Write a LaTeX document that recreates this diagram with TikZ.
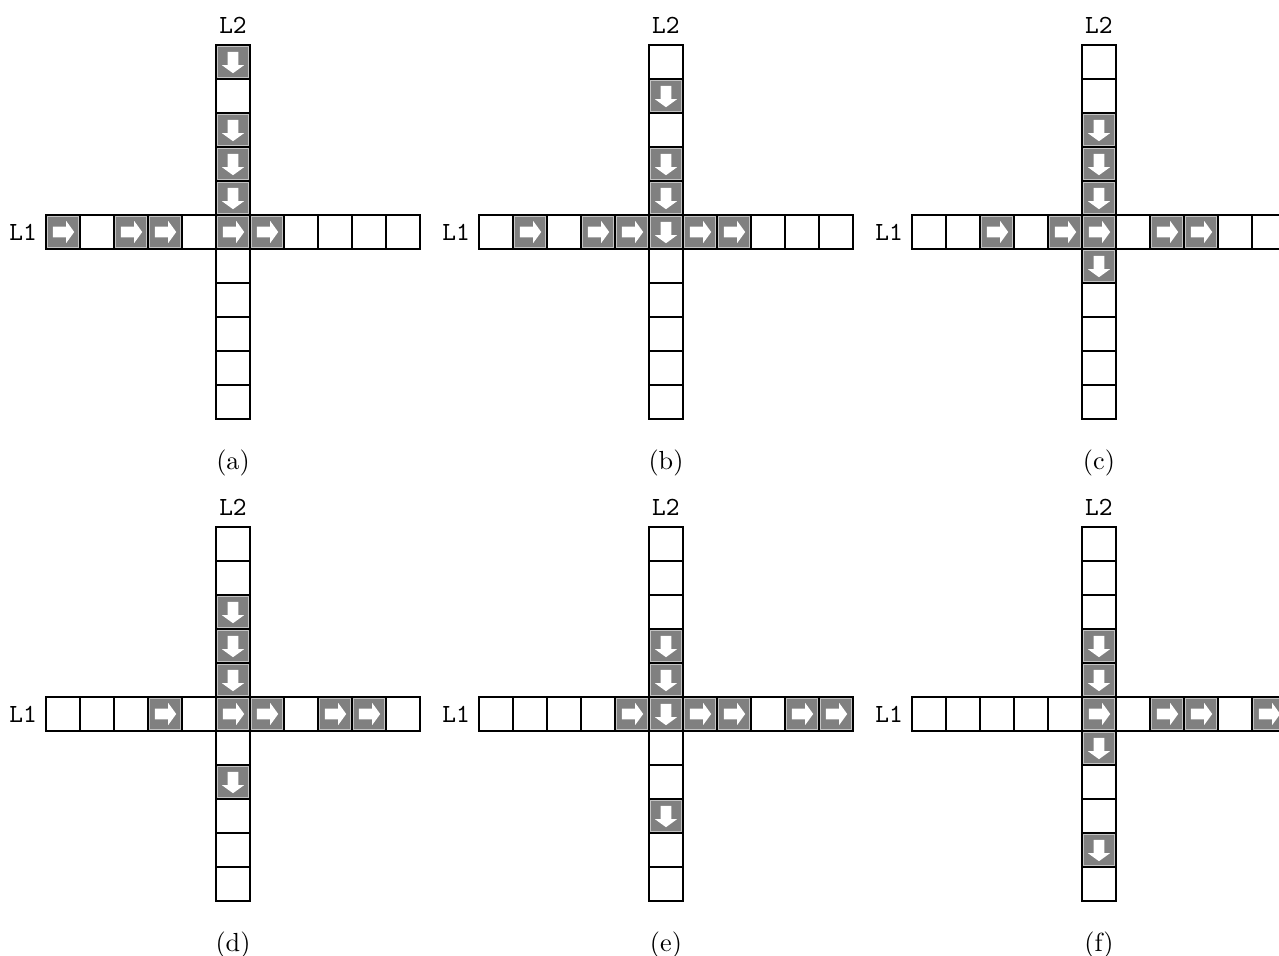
\documentclass[tikz,border=0pt]{standalone}
\usetikzlibrary{positioning}
\definecolor{carbody}{HTML}{808080}
\definecolor{carframe}{HTML}{C4C4C4}
\newcommand{\figsize}{\fontsize{10.95}{13.6}\selectfont}

% one crossing: name, centre of the shared cell, caption letter
\newcommand{\crossing}[3]{%
  \begin{scope}[shift={(#2)}]
    \foreach \i in {0,...,10}
      \node[cell] (#1-h\i) at (\i-5,0) {};
    \foreach \j in {0,1,2,3,4,6,7,8,9,10}
      \node[cell] (#1-v\j) at (0,5-\j) {};
    \coordinate (#1-v5) at (0,0);
  \end{scope}
  \node[lanename, above=1pt of #1-v0] (#1-l2) {L2};
  \node[lanename, left=0pt of #1-h0] (#1-l1) {L1};
  \node[below=9pt of #1-v10] (#1-cap) {(#3)};
}
% cars on a crossing: name, cells on L1, cells on L2
\newcommand{\cars}[3]{%
  \foreach \i in {#2} {
    \node[car] (#1-e\i) at (#1-h\i) {};
    \fill[white, shift={(#1-e\i)}]
      (-0.30,-0.16) -- (0.09,-0.16) -- (0.09,-0.33) -- (0.33,0)
      -- (0.09,0.33) -- (0.09,0.16) -- (-0.30,0.16) -- cycle;
  }
  \foreach \j in {#3} {
    \node[car] (#1-s\j) at (#1-v\j) {};
    \fill[white, shift={(#1-s\j)}]
      (-0.16,0.30) -- (-0.16,-0.09) -- (-0.33,-0.09) -- (0,-0.33)
      -- (0.33,-0.09) -- (0.16,-0.09) -- (0.16,0.30) -- cycle;
  }
}

\begin{document}
\begin{tikzpicture}[
    x=0.5cm, y=0.5cm,
    font=\figsize,
    cell/.style={rectangle, draw, line width=0.5pt, minimum size=0.5cm, inner sep=0pt},
    car/.style={rectangle, inner sep=0pt, minimum size=0.455cm,
                fill=carbody, draw=carframe, line width=0.7pt},
    lanename/.style={font=\figsize\ttfamily},
]
\useasboundingbox (-6.853,6.824) rectangle (30.765,-21.294);
\clip (-6.853,6.824) rectangle (30.765,-21.294);

% the six steps
\crossing{a}{0,0}{a}
\crossing{b}{12.735,0}{b}
\crossing{c}{25.47,0}{c}
\crossing{d}{0,-14.176}{d}
\crossing{e}{12.735,-14.176}{e}
\crossing{f}{25.47,-14.176}{f}

% cars in each step
\cars{a}{0,2,3,5,6}{0,2,3,4}
\cars{b}{1,3,4,6,7}{1,3,4,5}
\cars{c}{2,4,5,7,8}{2,3,4,6}
\cars{d}{3,5,6,8,9}{2,3,4,7}
\cars{e}{4,6,7,9,10}{3,4,5,8}
\cars{f}{5,7,8,10}{3,4,6,9}

\end{tikzpicture}
\end{document}
